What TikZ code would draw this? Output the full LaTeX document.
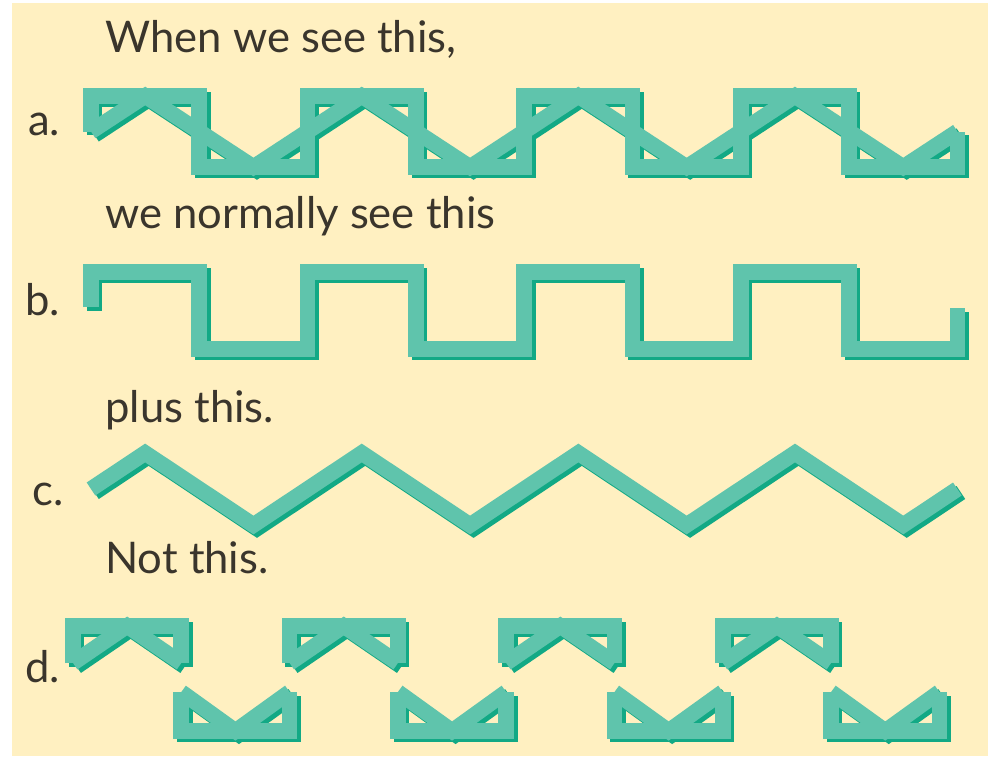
\documentclass[tikz,border=0pt]{standalone}
\usepackage{fontspec}
\setmainfont{Lato}
\definecolor{bgcream}{HTML}{FFF0C1}
\definecolor{tealband}{HTML}{5FC4AC}
\definecolor{tealshade}{HTML}{12A985}
\definecolor{inkgrey}{HTML}{3A352C}
\begin{document}
\begin{tikzpicture}[
		x=0.025cm,
		y=-0.025cm,
		caption/.style={
			anchor=base west,
			inner sep=0pt,
			text=inkgrey,
			font=\fontsize{31}{36}\selectfont
		},
		band/.style={
			line width=0.39cm,
			line join=miter,
			line cap=butt
		}
		]
		
		\useasboundingbox (0,0) rectangle (994,758);
		\fill[bgcream] (12,3) rectangle (988,756);
		
		% -------------------------------------------------------------------------
		% Bands: shadow pass first, then the light pass on top
		% -------------------------------------------------------------------------
		
		\foreach \dx/\col in {3.5/tealshade,0/tealband}{
			\begin{scope}[shift={(\dx,\dx)}]
				
				% a. square wave and zigzag together
				\draw[band,draw=\col] (91,131.5) -- (91,96)
				\foreach \k in {1,2,3}{ -- ++(108.3,0) -- ++(0,71) -- ++(108.3,0) -- ++(0,-71)}
				-- ++(108.3,0) -- ++(0,71) -- ++(108.3,0) -- ++(0,-35.5);
				\draw[band,draw=\col] (91,131.5) -- ++(54.15,-35.5)
				\foreach \s in {1,-1,1,-1,1,-1,1}{ -- ++(108.3,{71*(\s)})}
				-- ++(54.15,-35.5);
				
				% b. square wave only
				\draw[band,draw=\col] (91,307) -- (91,272)
				\foreach \k in {1,2,3}{ -- ++(108.3,0) -- ++(0,77) -- ++(108.3,0) -- ++(0,-77)}
				-- ++(108.3,0) -- ++(0,77) -- ++(108.3,0) -- ++(0,-41);
				
				% c. zigzag only
				\draw[band,draw=\col] (91,489) -- ++(54.15,-36)
				\foreach \s in {1,-1,1,-1,1,-1,1}{ -- ++(108.3,{72*(\s)})}
				-- ++(54.15,-36);
				
				% d. split into upper and lower pieces
				\foreach \k in {0,...,3}{
					\pgfmathsetmacro{\xl}{73+216.6*\k}
					\draw[band,draw=\col] (\xl,663) -- (\xl,626) -- ++(108.3,0) -- ++(0,37);
					\draw[band,draw=\col] (\xl,663) -- ++(54.15,-37) -- ++(54.15,37);
					\draw[band,draw=\col] ({\xl+108.3},692) -- ++(0,39) -- ++(108.3,0) -- ++(0,-39);
					\draw[band,draw=\col] ({\xl+108.3},692) -- ++(54.15,39) -- ++(54.15,-39);
				}
			\end{scope}
		}
		
		% -------------------------------------------------------------------------
		% Captions and row labels
		% -------------------------------------------------------------------------
		
		\node[caption] (capA) at (105,52) {When we see this,};
		\node[caption] (capB) at (105,228) {we normally see this};
		\node[caption] (capC) at (105,422) {plus this.};
		\node[caption] (capD) at (105,573) {Not this.};
		
		\node[caption] (labA) at (28,135) {a.};
		\node[caption] (labB) at (25,315) {b.};
		\node[caption] (labC) at (32,505) {c.};
		\node[caption] (labD) at (25,682) {d.};
		
\end{tikzpicture}
\end{document}
